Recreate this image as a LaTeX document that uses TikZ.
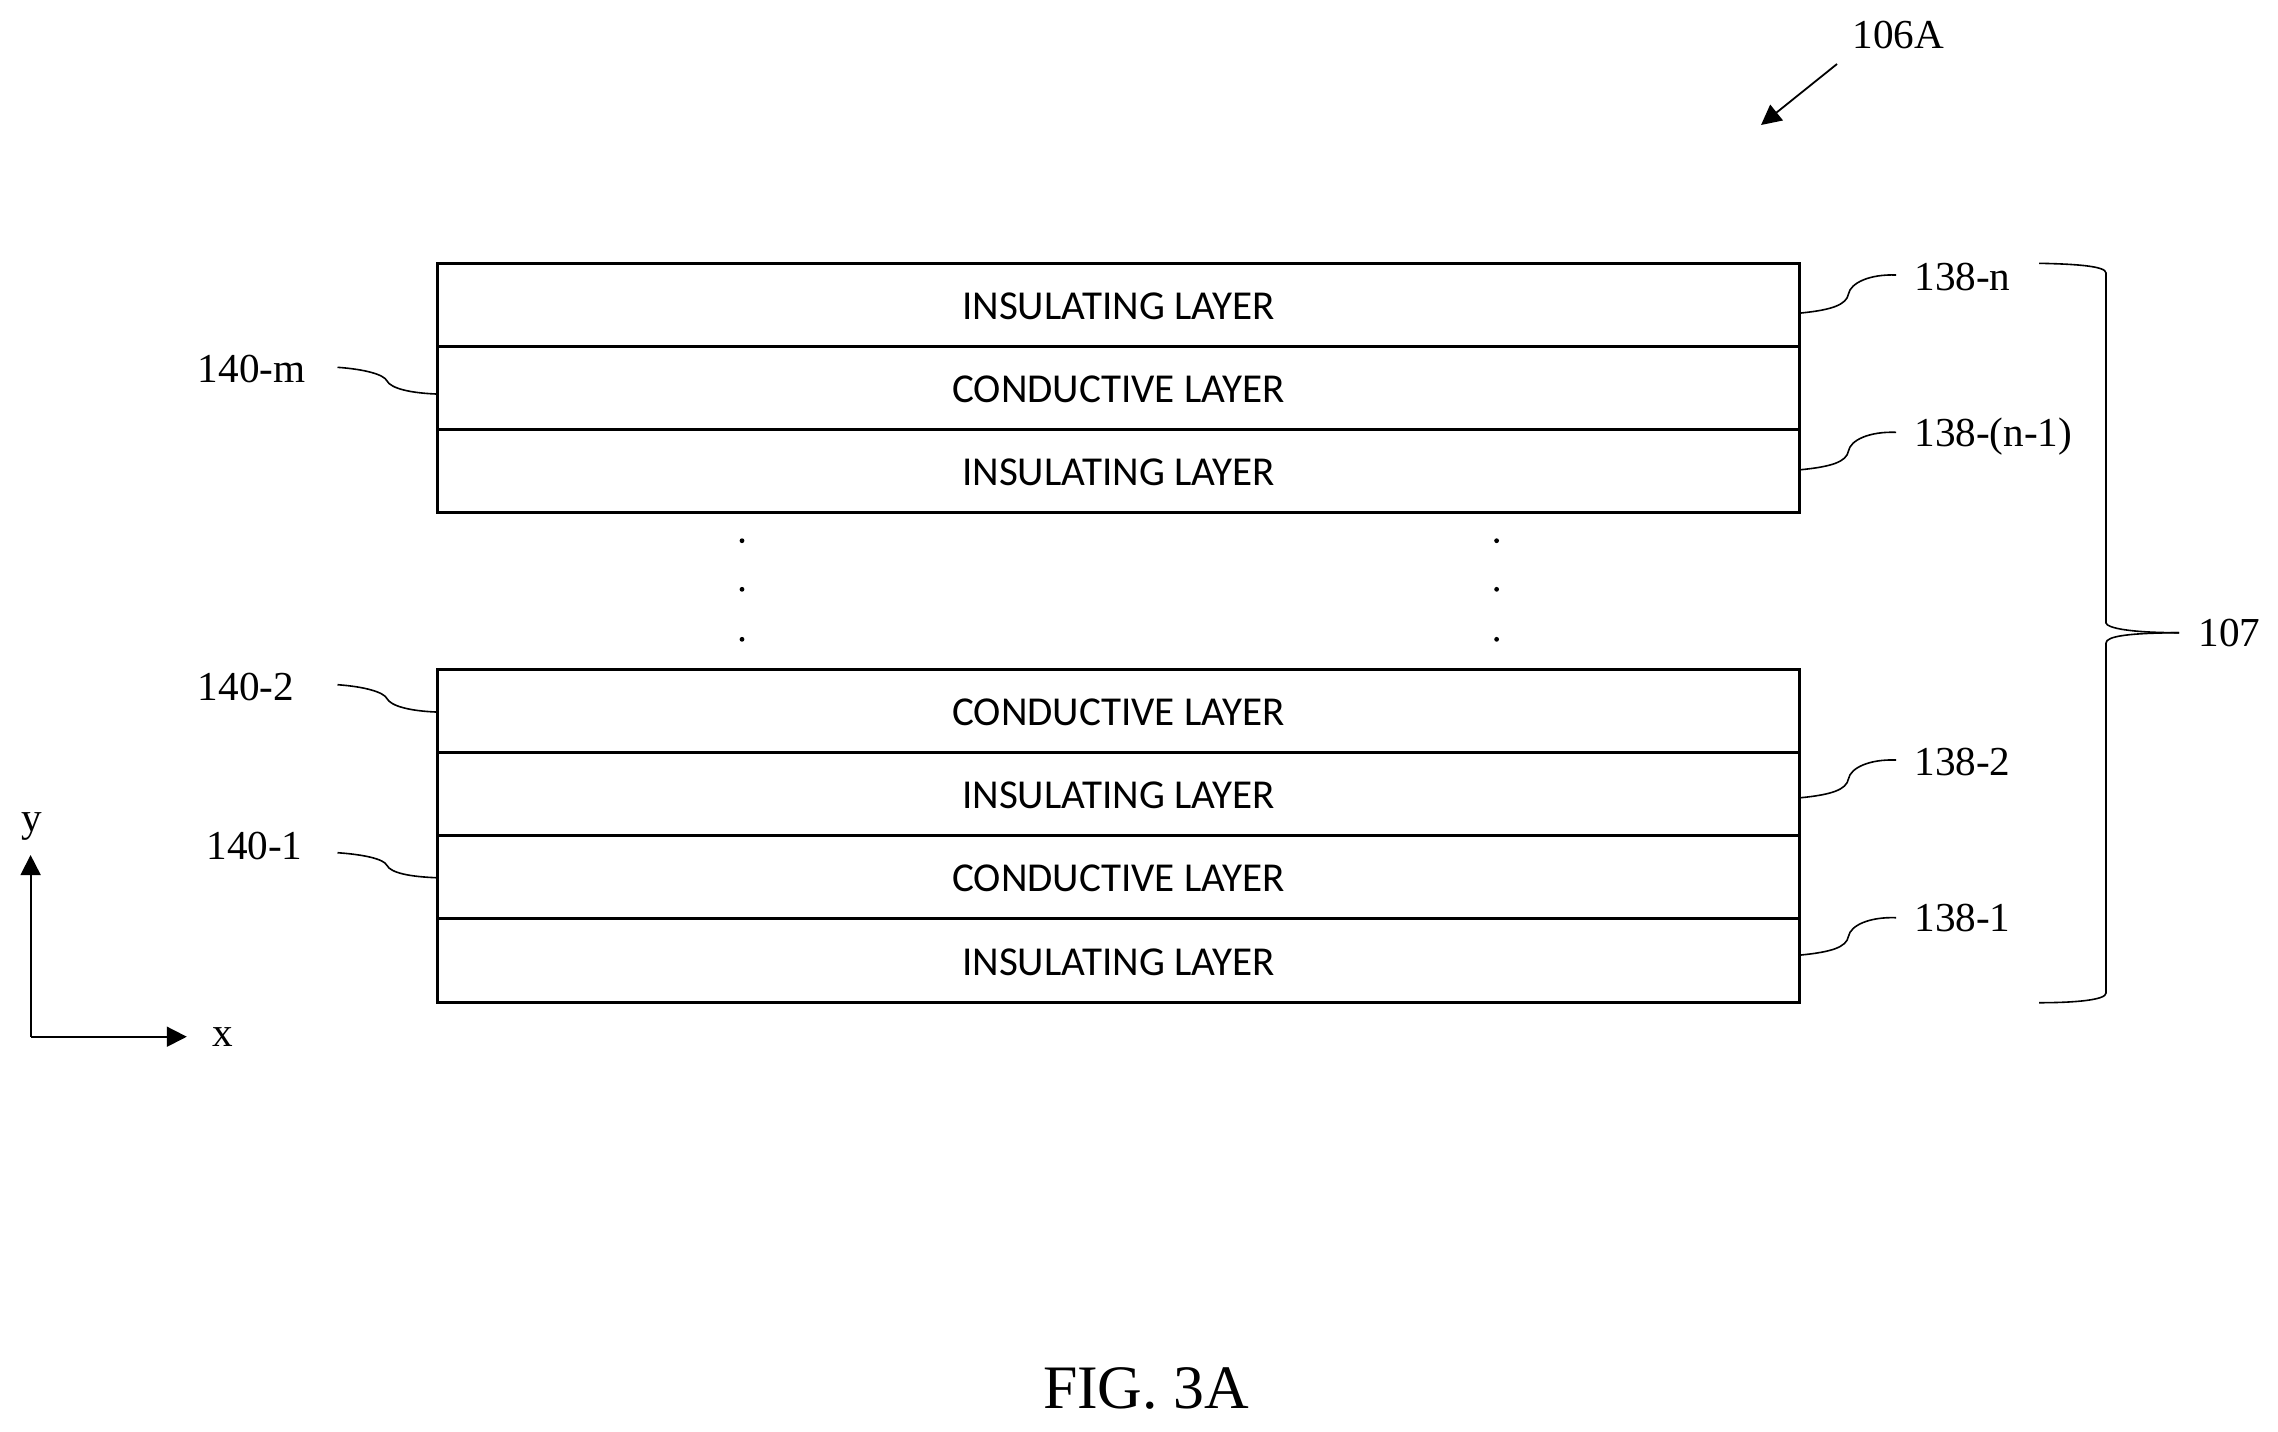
\documentclass[tikz,border=0pt]{standalone}
\usepackage{fontspec}
\setmainfont{Liberation Serif}
\newfontfamily\layerfont{Carlito}
\usetikzlibrary{arrows.meta,calc}
\tikzset{
  layerbox/.style={draw=black,line width=1.4pt,rectangle,inner sep=0pt,minimum width=681pt,minimum height=41.5pt,
    text height=14.5pt,text depth=0pt,font=\layerfont\fontsize{20.55}{22}\selectfont,anchor=center},
  reflabel/.style={anchor=base west,inner sep=0pt,font=\fontsize{20.6}{24}\selectfont},
  figlabel/.style={anchor=base west,inner sep=0pt,font=\fontsize{30.9}{36}\selectfont},
  dotmark/.style={circle,fill=black,inner sep=0pt,minimum size=2.4pt},
  thinline/.style={line width=0.8pt,black},
  axisarrow/.style={line width=0.9pt,-{Triangle[length=10pt,width=10pt]}},
  leaderR/.style={line width=0.8pt,to path={.. controls +(30,-3) and +(-2,11) .. ($(\tikztostart)!.5!(\tikztotarget)$) .. controls +(2,-11) and +(-26.5,-1) .. (\tikztotarget)}},
  leaderL/.style={line width=0.8pt,to path={.. controls +(-25,-1) and +(4,8) .. ($(\tikztostart)!.5!(\tikztotarget)$) .. controls +(-3,-6) and +(28,2) .. (\tikztotarget)}}
}
\begin{document}
\begin{tikzpicture}[x=0.5pt,y=-0.5pt]
\useasboundingbox (0,0) rectangle (2278,1431);
% layers
\node[layerbox] (n0) at (1118.5,305) {INSULATING LAYER};
\node[layerbox] (n1) at (1118.5,388) {CONDUCTIVE LAYER};
\node[layerbox] (n2) at (1118.5,471) {INSULATING LAYER};
\node[layerbox] (b4) at (1118.5,711) {CONDUCTIVE LAYER};
\node[layerbox] (b3) at (1118.5,794) {INSULATING LAYER};
\node[layerbox] (b2) at (1118.5,877) {CONDUCTIVE LAYER};
\node[layerbox,minimum height=42pt] (b1) at (1118.5,960.5) {INSULATING LAYER};
% dots
\node[dotmark] (dl1) at (742,540.7) {};
\node[dotmark] (dl2) at (742,589.3) {};
\node[dotmark] (dl3) at (742,639.3) {};
\node[dotmark] (dr1) at (1496.6,540.7) {};
\node[dotmark] (dr2) at (1496.6,589.3) {};
\node[dotmark] (dr3) at (1496.6,639.3) {};
% labels
\node[reflabel] (l106) at (1852,48) {106A};
\node[reflabel] (r1n) at (1914,290) {138-n};
\node[reflabel] (r1n1) at (1914,446.7) {138-(n-1)};
\node[reflabel] (r12) at (1914,775) {138-2};
\node[reflabel] (r11) at (1914,931.7) {138-1};
\node[reflabel] (l107) at (2198,646.7) {107};
\node[reflabel] (l4m) at (197.5,382.7) {140-m};
\node[reflabel] (l42) at (197.5,700) {140-2};
\node[reflabel] (l41) at (206,859) {140-1};
\node[reflabel] (ly) at (21,831) {y};
\node[reflabel] (lx) at (212,1046) {x};
\node[figlabel] (fig) at (1042.6,1408.3) {FIG. 3A};
% free ends
\coordinate (arS) at (1837,64);
\coordinate (arE) at (1761,125);
\coordinate (e1n) at (1896,275);
\coordinate (e1n1) at (1896,432.3);
\coordinate (e12) at (1896,760);
\coordinate (e11) at (1896,917.7);
\coordinate (e4m) at (337.5,367.3);
\coordinate (e42) at (337.5,684.7);
\coordinate (e41) at (337.5,852.7);
\coordinate (brT) at (2039,263.3);
\coordinate (brB) at (2039,1002.7);
\coordinate (brTip) at (2179,632.7);
\coordinate (axO) at (30.6,1036.7);
\coordinate (axY) at (30.6,855);
\coordinate (axX) at (186.8,1036.7);
% arrows
\draw[axisarrow] (arS) -- (arE);
\draw[axisarrow] (axO) -- (axY);
\draw[axisarrow] (axO) -- (axX);
% leaders
\draw[leaderR] ([yshift=-4pt]n0.east) to (e1n);
\draw[leaderR] ([yshift=0.65pt]n2.east) to (e1n1);
\draw[leaderR] ([yshift=-1.85pt]b3.east) to (e12);
\draw[leaderR] ([yshift=2.75pt]b1.east) to (e11);
\draw[leaderL] ([yshift=-3pt]n1.west) to (e4m);
\draw[leaderL] ([yshift=-0.5pt]b4.west) to (e42);
\draw[leaderL] ([yshift=-0.35pt]b2.west) to (e41);
% brace
\draw[thinline] (brT) .. controls (2075,264) and (2106,266) .. (2106,273) -- (2106,623) .. controls (2107,628) and (2130,632.7) .. (brTip);
\draw[thinline] (brTip) .. controls (2130,633) and (2106,636) .. (2106,643) -- (2106,993) .. controls (2106,1000) and (2075,1002.7) .. (brB);
\end{tikzpicture}
\end{document}
